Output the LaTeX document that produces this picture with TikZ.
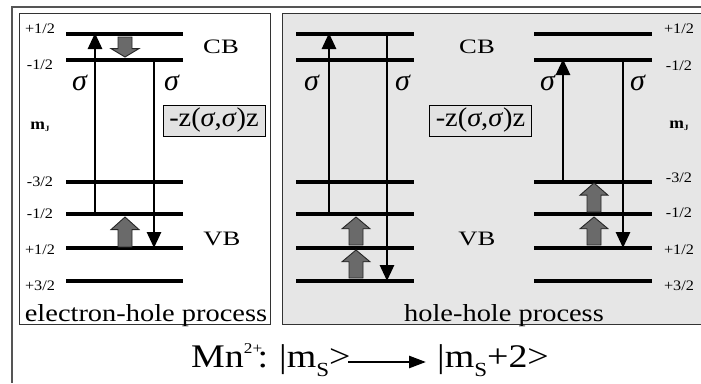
\documentclass[tikz,border=0pt]{standalone}
\usepackage{fontspec}
\setmainfont{Liberation Serif}
\usetikzlibrary{arrows.meta}
\definecolor{panelgray}{HTML}{E6E6E6}
\definecolor{boxgray}{HTML}{E2E2E2}
\definecolor{blkfill}{HTML}{6A6A6A}
\definecolor{framegray}{HTML}{555555}
\newcommand\sx[2]{\scalebox{#1}[1]{#2}}
\newcommand\sig{\textit{σ}}
\newcommand\mJ{{\fontsize{16}{16}\selectfont\textbf{m}}\raisebox{-2.5pt}{\fontsize{8}{8}\selectfont\textbf{J}}}
\newcommand\blkarrow[3]{%
  \draw[blk] (#1-7,#2) -- (#1-7,{#3+0.42*(#2-#3)}) -- (#1-14,{#3+0.42*(#2-#3)}) -- (#1,#3)
    -- (#1+14,{#3+0.42*(#2-#3)}) -- (#1+7,{#3+0.42*(#2-#3)}) -- (#1+7,#2) -- cycle;}
\tikzset{
  level/.style={line width=3.5pt},
  trans/.style={line width=2.8pt,-{Triangle[length=16pt,width=14pt]}},
  blk/.style={fill=blkfill,draw=black!85,line width=0.9pt},
  lbl/.style={font=\fontsize{14.5}{14.5}\selectfont,inner sep=0pt},
  band/.style={font=\fontsize{20.5}{20.5}\selectfont,inner sep=0pt},
  sigl/.style={font=\fontsize{30}{30}\selectfont,inner sep=0pt},
  zbox/.style={draw,fill=boxgray,line width=0.9pt,minimum width=102pt,minimum height=31pt,inner sep=0pt,font=\fontsize{27}{27}\selectfont},
  proc/.style={font=\fontsize{24.5}{24.5}\selectfont,inner sep=0pt,anchor=base},
  formula/.style={font=\fontsize{33}{33}\selectfont,inner sep=0pt,anchor=base west},
}
\begin{document}
\begin{tikzpicture}[x=1pt,y=-1pt]
\useasboundingbox (0,0) rectangle (701,383);
% frames
\draw[framegray,line width=1.2pt] (701,7) -- (12,7) -- (12,383);
\draw[fill=white,line width=1pt,draw=black!80] (19,13) rectangle (270,324);
\fill[panelgray] (282,13) rectangle (701,324);
\draw[line width=1pt,draw=black!80] (701,13) -- (282,13) -- (282,324) -- (701,324);
% levels
\foreach \xa/\xb in {66/183,296/414,534/652}{
  \foreach \yy in {34,60,182,214,248,281}{
    \draw[level] (\xa,\yy) -- (\xb,\yy);
  }
}
% labels left
\node[lbl] (l1) at (40,29) {\sx{1.12}{+1/2}};
\node[lbl] (l2) at (40,65) {\sx{1.12}{-1/2}};
\node[lbl] (lm) at (40,127) {\sx{1.1}{\mJ}};
\node[lbl] (l3) at (40,182) {\sx{1.12}{-3/2}};
\node[lbl] (l4) at (40,214) {\sx{1.12}{-1/2}};
\node[lbl] (l5) at (40,250) {\sx{1.12}{+1/2}};
\node[lbl] (l6) at (40,286) {\sx{1.12}{+3/2}};
% labels right
\node[lbl] (r1) at (679,29) {\sx{1.12}{+1/2}};
\node[lbl] (r2) at (679,66) {\sx{1.12}{-1/2}};
\node[lbl] (rm) at (679,126) {\sx{1.1}{\mJ}};
\node[lbl] (r3) at (679,178) {\sx{1.12}{-3/2}};
\node[lbl] (r4) at (679,213) {\sx{1.12}{-1/2}};
\node[lbl] (r5) at (679,250) {\sx{1.12}{+1/2}};
\node[lbl] (r6) at (679,286) {\sx{1.12}{+3/2}};
% band labels
\node[band] (cb1) at (221,47) {\sx{1.3}{CB}};
\node[band] (vb1) at (222,239) {\sx{1.3}{VB}};
\node[band] (cb2) at (477,47) {\sx{1.3}{CB}};
\node[band] (vb2) at (477,239) {\sx{1.3}{VB}};
% sigma labels
\node[sigl] (s1) at (80,83) {\sig};
\node[sigl] (s2) at (172,83) {\sig};
\node[sigl] (s3) at (312,83) {\sig};
\node[sigl] (s4) at (403,83) {\sig};
\node[sigl] (s5) at (548,83) {\sig};
\node[sigl] (s6) at (638,83) {\sig};
% z boxes
\node[zbox] (z1) at (214,120.5) {\sx{1.05}{-z(\sig,\sig)z}};
\node[zbox] (z2) at (480.5,120.5) {\sx{1.05}{-z(\sig,\sig)z}};
% transitions: coordinates
\coordinate (a1s) at (95,214);  \coordinate (a1e) at (95,33);
\coordinate (a2s) at (154,60);  \coordinate (a2e) at (154,248);
\coordinate (a3s) at (329,214); \coordinate (a3e) at (329,33);
\coordinate (a4s) at (387,34);  \coordinate (a4e) at (387,281);
\coordinate (a5s) at (563,182); \coordinate (a5e) at (563,59);
\coordinate (a6s) at (623,60);  \coordinate (a6e) at (623,248);
\draw[trans] (a1s) -- (a1e);
\draw[trans] (a2s) -- (a2e);
\draw[trans] (a3s) -- (a3e);
\draw[trans] (a4s) -- (a4e);
\draw[trans] (a5s) -- (a5e);
\draw[trans] (a6s) -- (a6e);
% block arrows
\blkarrow{125}{37}{57}
\blkarrow{125}{247}{217}
\blkarrow{356}{278}{250}
\blkarrow{356}{245}{217}
\blkarrow{594}{245}{217}
\blkarrow{594}{212}{183}
% process texts
\node[proc] (p1) at (146,321) {\sx{1.16}{electron-hole process}};
\node[proc] (p2) at (504,321) {\sx{1.16}{hole-hole process}};
% formula
\node[formula] (f1) at (191,367) {\sx{1.15}{Mn\raisebox{14pt}{\fontsize{15}{15}\selectfont 2+}\kern-4pt:}};
\node[formula] (f2) at (279,367) {\sx{1.15}{|m\raisebox{-9pt}{\fontsize{20}{20}\selectfont S}>}};
\node[formula] (f3) at (437,367) {\sx{1.15}{|m\raisebox{-9pt}{\fontsize{20}{20}\selectfont S}+2>}};
\coordinate (fa) at (348,362);
\coordinate (fb) at (426,362);
\draw[line width=2.6pt,-{Triangle[length=17pt,width=12pt]}] (fa) -- (fb);
\end{tikzpicture}
\end{document}
